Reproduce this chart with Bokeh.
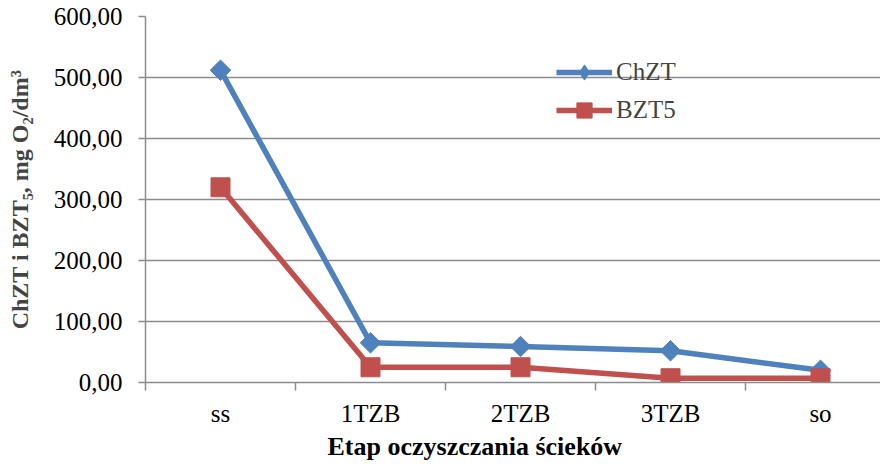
import math
from bokeh.plotting import figure
from bokeh.models import FixedTicker, Legend, LegendItem, Range1d, ColumnDataSource, Title
from bokeh.embed import file_html
from bokeh.resources import INLINE

categories = ["ss", "1TZB", "2TZB", "3TZB", "so"]
chzt = [512, 65, 59, 52, 20]
bzt5 = [320, 25, 25, 7, 7]
y_ticks = [0, 100, 200, 300, 400, 500, 600]
y_tick_labels = ["0,00", "100,00", "200,00", "300,00", "400,00", "500,00", "600,00"]
x_title = "Etap oczyszczania ścieków"
y_title = "ChZT i BZT₅, mg O₂/dm³"

FONT = "Liberation Serif"
BLUE = "#4F81BD"
RED = "#C0504D"
GRID = "#8C8C8C"

xs = [i + 0.5 for i in range(len(categories))]

p = figure(width=880, height=460, output_backend="svg", toolbar_location=None,
           x_range=Range1d(0, 4.9), y_range=Range1d(0, 600),
           min_border_left=145, min_border_right=0, min_border_top=16, min_border_bottom=78)
p.outline_line_color = None
p.background_fill_color = "white"
p.border_fill_color = "white"

# axes
p.xaxis.ticker = FixedTicker(ticks=xs, minor_ticks=list(range(len(categories) + 1)))
p.xaxis.major_label_overrides = {x: c for x, c in zip(xs, categories)}
p.xaxis.major_tick_line_color = None
p.xaxis.major_tick_out = 0
p.xaxis.major_tick_in = 0
p.xaxis.minor_tick_line_color = GRID
p.xaxis.minor_tick_line_width = 1.5
p.xaxis.minor_tick_out = 8
p.xaxis.minor_tick_in = 0
p.xaxis.axis_line_color = GRID
p.xaxis.axis_line_width = 1.5
p.xaxis.major_label_text_font = FONT
p.xaxis.major_label_text_font_size = "25px"
p.xaxis.major_label_text_color = "black"
p.xaxis.major_label_standoff = 9

p.yaxis.ticker = FixedTicker(ticks=y_ticks, minor_ticks=[])
p.yaxis.major_label_overrides = {t: l for t, l in zip(y_ticks, y_tick_labels)}
p.yaxis.major_tick_line_color = GRID
p.yaxis.major_tick_line_width = 1.5
p.yaxis.major_tick_out = 7
p.yaxis.major_tick_in = 0
p.yaxis.axis_line_color = GRID
p.yaxis.axis_line_width = 1.5
p.yaxis.major_label_text_font = FONT
p.yaxis.major_label_text_font_size = "25px"
p.yaxis.major_label_text_color = "black"
p.yaxis.major_label_standoff = 16
p.yaxis.axis_label = y_title
p.yaxis.axis_label_text_font = FONT
p.yaxis.axis_label_text_font_style = "bold"
p.yaxis.axis_label_text_font_size = "24px"
p.yaxis.axis_label_standoff = 18

p.xgrid.grid_line_color = None
p.ygrid.ticker = FixedTicker(ticks=y_ticks)
p.ygrid.grid_line_color = GRID
p.ygrid.grid_line_width = 1.5

# x-axis title (sits left of the frame centre as in the original)
p.add_layout(Title(text=x_title, align="left", offset=182, standoff=0,
                   text_font=FONT, text_font_style="bold", text_font_size="26px",
                   text_color="black"), "below")

# series
l1 = p.line(xs, chzt, line_color=BLUE, line_width=5.5)
m1 = p.scatter(xs, chzt, marker="square", angle=math.pi / 4, size=14.5,
               fill_color=BLUE, line_color=BLUE)
l2 = p.line(xs, bzt5, line_color=RED, line_width=5.5)
m2 = p.scatter(xs, bzt5, marker="square", size=19, fill_color=RED, line_color=RED)

# legend-only diamond symbol (legend ignores marker angle); NaN point is never drawn
leg_src = ColumnDataSource(data=dict(x=[float("nan")], y=[float("nan")]))
m1_leg = p.scatter("x", "y", source=leg_src, marker="diamond", size=20,
                   fill_color=BLUE, line_color=BLUE)

legend = Legend(items=[LegendItem(label="ChZT", renderers=[l1, m1_leg]),
                       LegendItem(label="BZT5", renderers=[l2, m2])],
                location=(411, 253))
legend.border_line_color = None
legend.background_fill_alpha = 0
legend.label_text_font = FONT
legend.label_text_font_size = "25px"
legend.glyph_width = 56
legend.glyph_height = 38
legend.spacing = 0
legend.label_standoff = 4
legend.padding = 0
legend.margin = 0
p.add_layout(legend, "center")

open("out.html", "w").write(file_html(p, INLINE))
